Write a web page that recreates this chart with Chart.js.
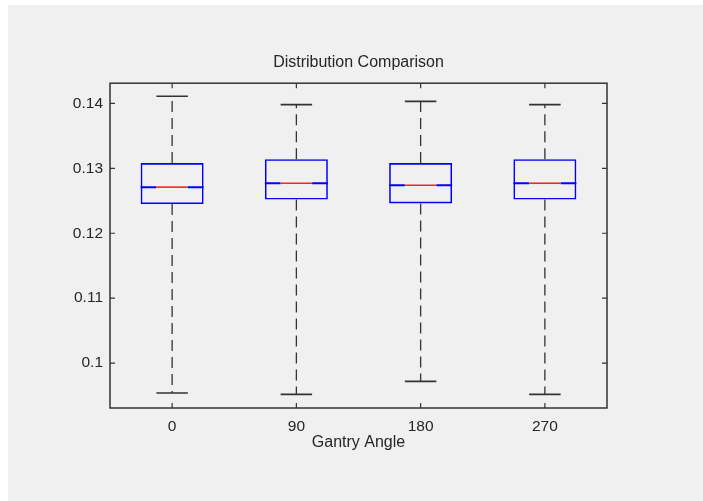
<!DOCTYPE html>
<html>
<head>
<meta charset="utf-8">
<title>Distribution Comparison</title>
<script src="https://cdn.jsdelivr.net/npm/chart.js@4.4.1/dist/chart.umd.min.js"></script>
<style>
  html, body { margin: 0; padding: 0; background: #ffffff; }
  #chart { position: absolute; left: 8px; top: 5px; background: #f0f0f0; }
</style>
</head>
<body>
<canvas id="chart" width="695" height="496"></canvas>
<script>
'use strict';

// values
const categories = ['0', '90', '180', '270'];
const whiskerHigh = [0.1411, 0.1398, 0.1403, 0.1398];
const upperQuartile = [0.1308, 0.1314, 0.1308, 0.1314];
const medians = [0.1271, 0.1277, 0.1274, 0.1277];
const lowerQuartile = [0.1245, 0.1252, 0.1246, 0.1252];
const whiskerLow = [0.0954, 0.0952, 0.0972, 0.0952];
const yTicks = [0.1, 0.11, 0.12, 0.13, 0.14];

const FONT = '"Liberation Sans", Arial, Helvetica, sans-serif';
const TEXT = '#262626';
const BLUE = '#0000ff';

// whiskers, caps, medians and the axes box with inward ticks
const boxPlotExtras = {
  id: 'boxPlotExtras',
  afterDatasetsDraw(chart) {
    const { ctx } = chart;
    const x = chart.scales.x;
    const y = chart.scales.y;
    const meta = chart.getDatasetMeta(0);

    ctx.save();
    categories.forEach((cat, i) => {
      const bar = meta.data[i];
      const cx = x.getPixelForValue(i);
      const half = bar.width / 2;
      const capHalf = half / 2;
      const yHi = y.getPixelForValue(whiskerHigh[i]);
      const yQ3 = y.getPixelForValue(upperQuartile[i]);
      const yQ1 = y.getPixelForValue(lowerQuartile[i]);
      const yLo = y.getPixelForValue(whiskerLow[i]);
      const yMed = y.getPixelForValue(medians[i]);

      // dashed whiskers
      ctx.strokeStyle = '#333333';
      ctx.lineWidth = 1.3;
      ctx.setLineDash([11, 6]);
      ctx.beginPath();
      ctx.moveTo(cx, yQ3);
      ctx.lineTo(cx, yHi);
      ctx.moveTo(cx, yQ1);
      ctx.lineTo(cx, yLo);
      ctx.stroke();
      ctx.setLineDash([]);

      // caps
      ctx.lineWidth = 1.6;
      ctx.beginPath();
      ctx.moveTo(cx - capHalf, yHi);
      ctx.lineTo(cx + capHalf, yHi);
      ctx.moveTo(cx - capHalf, yLo);
      ctx.lineTo(cx + capHalf, yLo);
      ctx.stroke();

      // notch ends at the median
      ctx.strokeStyle = BLUE;
      ctx.lineWidth = 2;
      ctx.beginPath();
      ctx.moveTo(cx - half, yMed);
      ctx.lineTo(cx - capHalf, yMed);
      ctx.moveTo(cx + capHalf, yMed);
      ctx.lineTo(cx + half, yMed);
      ctx.stroke();

      // median
      ctx.strokeStyle = '#ff2020';
      ctx.lineWidth = 1.6;
      ctx.beginPath();
      ctx.moveTo(cx - capHalf, yMed);
      ctx.lineTo(cx + capHalf, yMed);
      ctx.stroke();
    });
    ctx.restore();
  },
  afterDraw(chart) {
    const { ctx, chartArea: a } = chart;
    const x = chart.scales.x;
    const y = chart.scales.y;
    const tick = 5;

    ctx.save();
    ctx.strokeStyle = '#333333';
    ctx.lineWidth = 1.5;
    ctx.strokeRect(a.left, a.top, a.right - a.left, a.bottom - a.top);

    ctx.lineWidth = 1.2;
    ctx.beginPath();
    yTicks.forEach(v => {
      const py = y.getPixelForValue(v);
      ctx.moveTo(a.left, py);
      ctx.lineTo(a.left + tick, py);
      ctx.moveTo(a.right, py);
      ctx.lineTo(a.right - tick, py);
    });
    categories.forEach((c, i) => {
      const px = x.getPixelForValue(i);
      ctx.moveTo(px, a.bottom);
      ctx.lineTo(px, a.bottom - tick);
      ctx.moveTo(px, a.top);
      ctx.lineTo(px, a.top + tick);
    });
    ctx.stroke();
    ctx.restore();
  }
};

const chart = new Chart(document.getElementById('chart'), {
  type: 'bar',
  data: {
    labels: categories,
    datasets: [{
      label: 'Box',
      data: lowerQuartile.map((q1, i) => [q1, upperQuartile[i]]),
      backgroundColor: 'rgba(0,0,0,0)',
      borderColor: BLUE,
      borderWidth: 1.6,
      borderSkipped: false,
      barPercentage: 0.507,
      categoryPercentage: 1
    }]
  },
  plugins: [boxPlotExtras],
  options: {
    responsive: false,
    animation: false,
    layout: { padding: { left: 6, right: 0, top: 0, bottom: 0 } },
    plugins: {
      legend: { display: false },
      tooltip: { enabled: false },
      title: {
        display: true,
        text: 'Distribution Comparison',
        color: TEXT,
        font: { family: FONT, size: 16, weight: 'normal' },
        padding: { top: 48, bottom: 11 }
      }
    },
    scales: {
      x: {
        type: 'category',
        offset: true,
        grid: { display: false, drawTicks: false },
        border: { display: false },
        ticks: {
          color: TEXT,
          padding: 9,
          font: { family: FONT, size: 15.5 }
        },
        title: {
          display: true,
          text: 'Gantry Angle',
          color: TEXT,
          font: { family: FONT, size: 16 },
          padding: { top: 0, bottom: 49 }
        },
        afterFit(scale) { scale.height = 93; }
      },
      y: {
        min: 0.0931,
        max: 0.1431,
        grid: { display: false, drawTicks: false },
        border: { display: false },
        afterBuildTicks(scale) {
          scale.ticks = yTicks.map(v => ({ value: v }));
        },
        ticks: {
          color: TEXT,
          padding: 7,
          font: { family: FONT, size: 15.5 },
          callback: v => String(+v.toFixed(2))
        },
        afterFit(scale) { scale.width = 96; }
      },
      yRight: {
        type: 'linear',
        position: 'right',
        min: 0.0931,
        max: 0.1431,
        grid: { display: false, drawTicks: false },
        border: { display: false },
        ticks: { display: false },
        afterFit(scale) { scale.width = 96; }
      }
    }
  }
});
</script>
</body>
</html>
